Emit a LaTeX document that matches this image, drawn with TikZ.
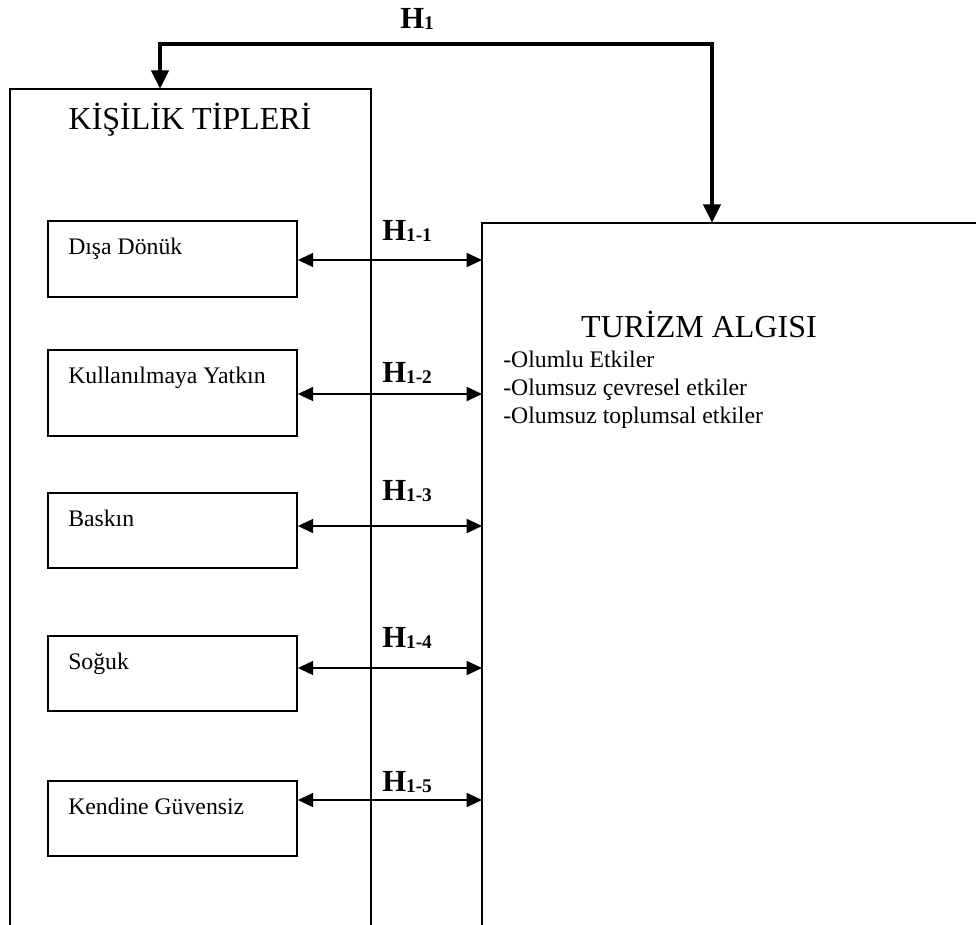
\documentclass[tikz,border=0pt]{standalone}
\usepackage{fontspec}
\setmainfont{Liberation Serif}
\usetikzlibrary{arrows.meta}

\tikzset{
  frame/.style={line width=1.4pt},
  typebox/.style={draw, line width=1.4pt, minimum width=249*0.75pt, inner sep=0pt, anchor=north west},
  boxtext/.style={inner sep=0pt, anchor=base west, font=\fontsize{17.8}{21}\selectfont},
  titletext/.style={inner sep=0pt, anchor=base, font=\fontsize{24}{28}\selectfont},
  hlabel/.style={inner sep=0pt, anchor=base west, font=\fontsize{23}{27}\selectfont\bfseries},
  linkarrow/.style={line width=1.4pt, {Triangle[length=11.5pt,width=10.5pt]}-{Triangle[length=11.5pt,width=10.5pt]}},
  mainarrow/.style={line width=3.7pt, {Triangle[length=14pt,width=12.5pt]}-{Triangle[length=14pt,width=12.5pt]}},
}
\newcommand{\hyp}[1]{H\raisebox{-1pt}{\fontsize{14.5}{14.5}\selectfont #1}}

\begin{document}
\begin{tikzpicture}[x=0.75pt,y=0.75pt,yscale=-1,xscale=1]
        \useasboundingbox (0,0) rectangle (976,925);

        %Shape: open frame left
        \draw[frame] (10,925) -- (10,89) -- (371,89) -- (371,925);
        %Shape: open frame right
        \draw[frame] (976,223) -- (482,223) -- (482,925);
        \coordinate (kp) at (160,89);
        \coordinate (ta) at (482,223);
        \coordinate (tp) at (712,223);
        \coordinate (top) at (0,44);

        % Text Node
        \node[titletext] (kt) at (190,129) {KİŞİLİK TİPLERİ};
        % Text Node
        \node[titletext] (tt) at (699,337) {TURİZM ALGISI};
        % Text Node
        \node[boxtext, anchor=north west, align=left] (tl) at (503,351) {-Olumlu Etkiler\\-Olumsuz çevresel etkiler\\-Olumsuz toplumsal etkiler};

        % thick connector
        \draw[mainarrow] (kp) |- (top -| tp) -- (tp);
        \node[hlabel] (h1) at (400,28) {\hyp{1}};

        % type boxes with their connectors
        \foreach \n/\yb/\hb/\kind/\ya/\yl in {
            1/220/76/Dışa Dönük/260/240,
            2/349/86/Kullanılmaya Yatkın/394/382,
            3/492/75/Baskın/526/500,
            4/635/75/Soğuk/668/647,
            5/780/75/Kendine Güvensiz/800/791}{
          \node[typebox, minimum height=\hb*0.75pt] (b\n) at (47,\yb) {};
          \node[boxtext] (t\n) at (68,\yb+34) {\kind};
          \coordinate (y\n) at (0,\ya);
          \draw[linkarrow] (b\n.east |- y\n) -- (ta |- y\n);
          \node[hlabel] (h1\n) at (382,\yl) {\hyp{1-\n}};
        }
\end{tikzpicture}
\end{document}
